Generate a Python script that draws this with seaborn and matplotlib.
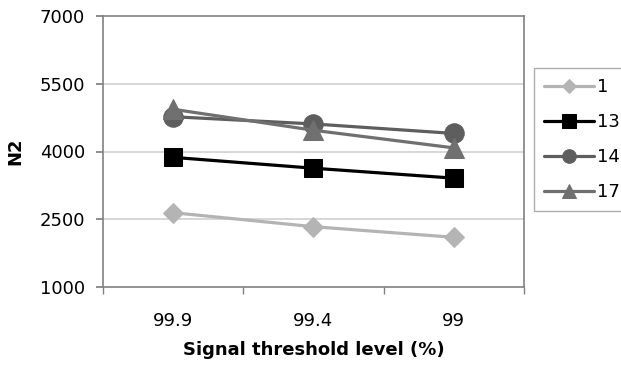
import matplotlib
matplotlib.use("Agg")
import matplotlib.pyplot as plt
import seaborn as sns
import pandas as pd
from matplotlib.ticker import FixedLocator

categories = ["99.9", "99.4", "99"]
series_names = ["1", "13", "14", "17"]
s1 = [2645, 2335, 2100]
s13 = [3870, 3630, 3410]
s14 = [4770, 4610, 4400]
s17 = [4935, 4470, 4080]
y_ticks = [1000, 2500, 4000, 5500, 7000]

sns.set_theme(style="white")
plt.rcParams["font.family"] = ["DejaVu Sans"]
plt.rcParams["text.color"] = "black"
plt.rcParams["axes.labelcolor"] = "black"
plt.rcParams["xtick.color"] = "black"
plt.rcParams["ytick.color"] = "black"

fig = plt.figure(figsize=(6.21, 3.72), dpi=100)
ax = fig.add_axes([103/621, 1-287/372, (524-103)/621, (287-16)/372])

values = [s1, s13, s14, s17]
colors = ["#b4b4b4", "#000000", "#5e5e5e", "#707070"]
markers = ["D", "s", "o", "^"]
msizes = [10.5, 13.5, 14, 14.5]
xpos = list(range(len(categories)))

for name, vals, c, m, ms in zip(series_names, values, colors, markers, msizes):
    df = pd.DataFrame({"x": xpos, "y": vals})
    sns.lineplot(data=df, x="x", y="y", ax=ax, color=c, marker=m, markersize=ms,
                 linewidth=2.3, markeredgecolor=c, label=name)

ax.set_xlim(-0.5, len(categories) - 0.5)
ax.set_ylim(1000, 7000)
ax.set_yticks(y_ticks)
ax.set_yticklabels([str(v) for v in y_ticks], fontsize=13)
ax.set_xticks(xpos)
ax.set_xticklabels(categories, fontsize=13)
ax.xaxis.set_minor_locator(FixedLocator([-0.5, 0.5, 1.5, 2.5]))
ax.tick_params(axis="x", which="major", length=0, pad=18)
ax.tick_params(axis="x", which="minor", length=5, color="#808080", width=1, bottom=True)
ax.tick_params(axis="y", which="major", length=5, color="#808080", left=True, pad=8)
for v in y_ticks[1:-1]:
    ax.axhline(v, color="#d0d0d0", linewidth=1.2, zorder=0)
for sp in ax.spines.values():
    sp.set_color("#808080")
    sp.set_linewidth(1.2)

ax.set_xlabel("Signal threshold level (%)", fontsize=13, fontweight="bold", labelpad=8)
ax.set_ylabel("N2", fontsize=13, fontweight="bold", labelpad=11)

leg = ax.legend(loc="upper left", bbox_to_anchor=(534/621, 1-68/372),
                bbox_transform=fig.transFigure, borderaxespad=0, fontsize=13,
                frameon=True, fancybox=False, edgecolor="#999999",
                handlelength=2.8, handletextpad=0.15, labelspacing=0.95,
                borderpad=0.55, markerscale=0.7)
leg.get_frame().set_linewidth(1.0)

fig.savefig("out.png", dpi=100)
